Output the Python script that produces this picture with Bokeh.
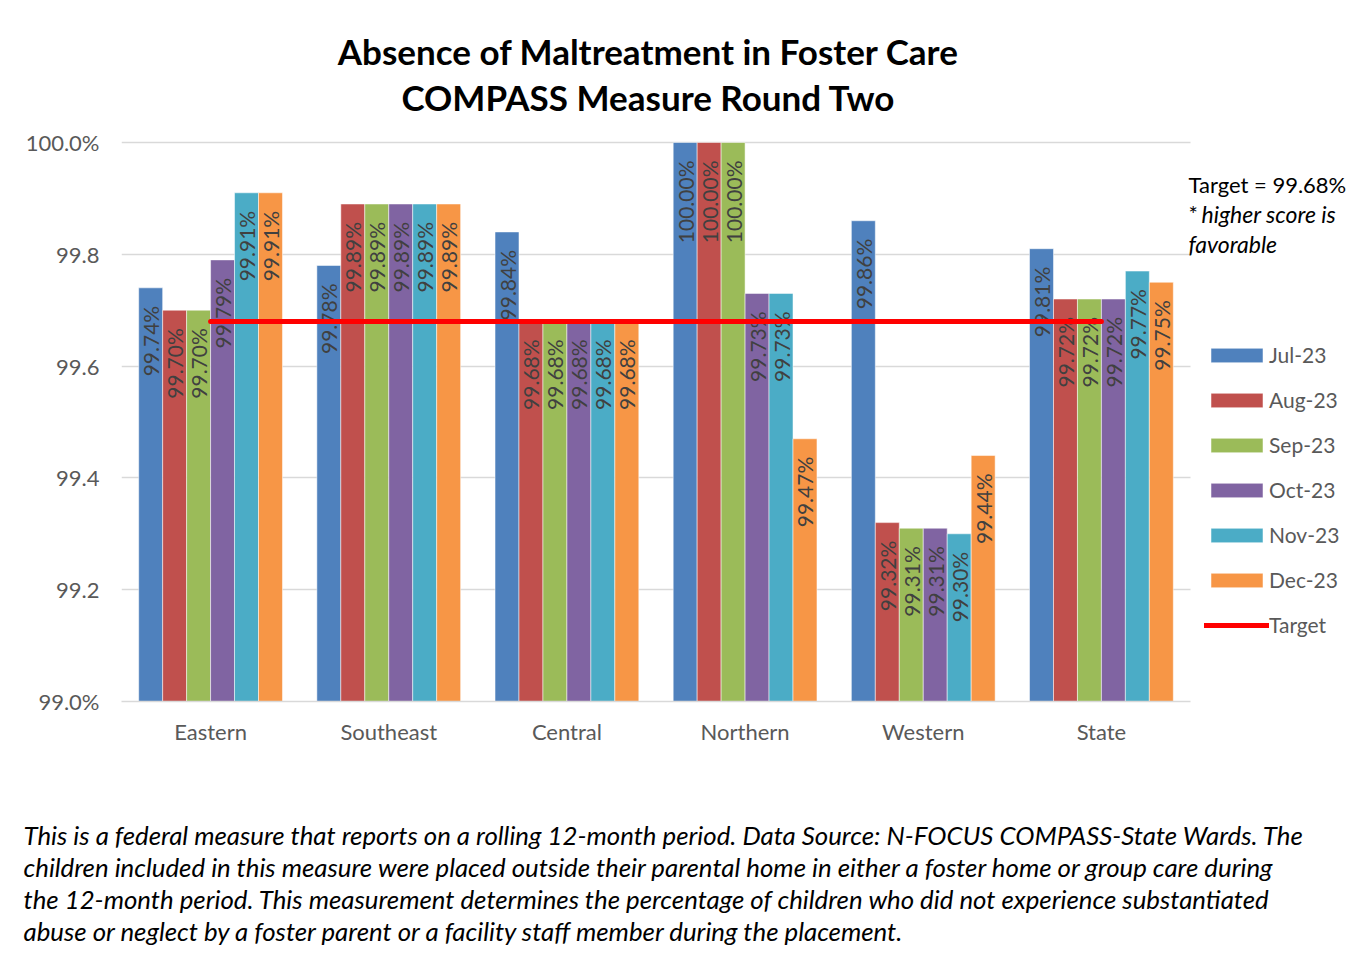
import math
from bokeh.plotting import figure
from bokeh.models import (ColumnDataSource, Range1d, FixedTicker, Label, Legend,
                          LegendItem, Title)
from bokeh.transform import dodge
from bokeh.core.properties import value
from bokeh.embed import file_html
from bokeh.resources import INLINE

# ---------------- data ----------------
regions = ["Eastern", "Southeast", "Central", "Northern", "Western", "State"]
months = ["Jul-23", "Aug-23", "Sep-23", "Oct-23", "Nov-23", "Dec-23"]
jul = [99.74, 99.78, 99.84, 100.00, 99.86, 99.81]
aug = [99.70, 99.89, 99.68, 100.00, 99.32, 99.72]
sep = [99.70, 99.89, 99.68, 100.00, 99.31, 99.72]
oct_ = [99.79, 99.89, 99.68, 99.73, 99.31, 99.72]
nov = [99.91, 99.89, 99.68, 99.73, 99.30, 99.77]
dec = [99.91, 99.89, 99.68, 99.47, 99.44, 99.75]
target = 99.68
y_ticks = [99.0, 99.2, 99.4, 99.6, 99.8, 100.0]
y_tick_labels = ["99.0%", "99.2", "99.4", "99.6", "99.8", "100.0%"]
title_lines = ["Absence of Maltreatment in Foster Care", "COMPASS Measure Round Two"]
note_target = "Target = 99.68%"
note_star = "*"
note_higher = "higher score is"
note_fav = "favorable"
footnote_lines = [
    "This is a federal measure that reports on a rolling 12-month period. Data Source: N-FOCUS COMPASS-State Wards. The",
    "children included in this measure were placed outside their parental home in either a foster home or group care during",
    "the 12-month period. This measurement determines the percentage of children who did not experience substantiated",
    "abuse or neglect by a foster parent or a facility staff member during the placement.",
]

series = [jul, aug, sep, oct_, nov, dec]
colors = ["#4F81BD", "#C0504D", "#9BBB59", "#8064A2", "#4BACC6", "#F79646"]
FONT = "Lato"

# ---------------- layout geometry ----------------
W, H = 1350, 957
LEFT = 121            # frame left edge
BOTTOM = 701          # frame bottom (y = 99.0)
TOP_100 = 142         # pixel row of 100.0
GROUP_PX = 1069 / len(regions)
px_per_unit_y = (BOTTOM - TOP_100) / (y_ticks[-1] - y_ticks[0])
y_end = y_ticks[-1] + TOP_100 / px_per_unit_y
x_start = -0.5
x_end = x_start + (W - LEFT) / GROUP_PX

xs = list(range(len(regions)))
data = {"x": xs}
keys = []
for i, s in enumerate(series):
    k = "s%d" % i
    keys.append(k)
    data[k] = s
    data[k + "_lbl"] = ["%.2f%%" % v for v in s]
src = ColumnDataSource(data)

p = figure(x_range=Range1d(x_start, x_end), y_range=Range1d(y_ticks[0], y_end),
           width=W, height=H, output_backend="svg", toolbar_location=None, title=None,
           min_border_left=LEFT, min_border_right=0, min_border_top=0,
           min_border_bottom=H - BOTTOM)
p.outline_line_color = None
p.xgrid.grid_line_color = None
p.ygrid.grid_line_color = "#d9d9d9"
p.ygrid.grid_line_width = 1.5
try:
    p.ygrid.cross_bounds = (x_start, len(regions) - 0.5)
except Exception:
    pass
p.background_fill_color = "white"
p.border_fill_color = "white"

p.yaxis.ticker = FixedTicker(ticks=y_ticks)
p.yaxis.major_label_overrides = {t: l for t, l in zip(y_ticks, y_tick_labels)}
p.yaxis.axis_line_color = None
p.yaxis.major_tick_line_color = None
p.yaxis.minor_tick_line_color = None
p.yaxis.major_tick_out = 0
p.yaxis.minor_tick_out = 0
p.yaxis.major_label_text_font = FONT
p.yaxis.major_label_text_font_size = "22px"
p.yaxis.major_label_text_color = "#595959"
p.yaxis.major_label_standoff = 22

p.xaxis.ticker = FixedTicker(ticks=xs)
p.xaxis.major_label_overrides = {i: r for i, r in zip(xs, regions)}
p.xaxis.bounds = (x_start, len(regions) - 0.5)
p.xaxis.axis_line_color = "#d9d9d9"
p.xaxis.axis_line_width = 1.5
p.xaxis.major_tick_line_color = None
p.xaxis.minor_tick_line_color = None
p.xaxis.major_tick_out = 0
p.xaxis.minor_tick_out = 0
p.xaxis.major_label_text_font = FONT
p.xaxis.major_label_text_font_size = "22px"
p.xaxis.major_label_text_color = "#595959"
p.xaxis.major_label_standoff = 16

bw = 0.1345
items = []
for i, k in enumerate(keys):
    off = (i - 2.5) * bw
    r = p.vbar(x=dodge("x", off), top=k, bottom=y_ticks[0], width=bw,
               source=src, fill_color=colors[i], line_color="white", line_alpha=0.5, line_width=1)
    items.append(LegendItem(label=months[i], renderers=[r]))

for i, k in enumerate(keys):
    off = (i - 2.5) * bw
    p.text(x=dodge("x", off), y=k, text=k + "_lbl", source=src,
           angle=math.pi / 2, text_align="right", text_baseline="middle", y_offset=18,
           text_font=value(FONT), text_font_size="21px", text_color="#404040")

lr = p.line(x=[xs[0], xs[-1]], y=[target, target], line_color="#FF0000",
            line_width=5, line_cap="round")
items.append(LegendItem(label="Target", renderers=[lr]))

legend = Legend(items=items, location=(1083, 64), orientation="vertical",
                glyph_width=65, glyph_height=18, label_standoff=0, spacing=20,
                padding=0, margin=0, border_line_alpha=0, background_fill_alpha=0,
                label_text_font=FONT, label_text_font_size="21px", label_text_color="#595959")
p.add_layout(legend)

def lab(x, y, text, size, style="normal", align="left", color="black"):
    p.add_layout(Label(x=x, y=y, x_units="screen", y_units="screen", text=text,
                       text_font=FONT, text_font_size=size, text_font_style=style,
                       text_align=align, text_baseline="middle", text_color=color))

lab(527, BOTTOM - 50, title_lines[0], "35px", "bold", "center")
lab(527, BOTTOM - 96, title_lines[1], "35px", "bold", "center")
lab(1067, BOTTOM - 184, note_target, "22px")
lab(1067, BOTTOM - 213, note_star, "22px")
lab(1080, BOTTOM - 213, note_higher, "23px", "italic")
lab(1067, BOTTOM - 243, note_fav, "23px", "italic")

# footnote: titles stacked below the x axis
p.add_layout(Title(text=" ", text_font=FONT, text_font_size="22px", standoff=43,
                   align="left", vertical_align="top"), "below")
for line in footnote_lines:
    p.add_layout(Title(text=line, text_font=FONT, text_font_size="25.8px",
                       text_font_style="italic", text_color="black", standoff=0,
                       align="left", vertical_align="top", offset=23 - LEFT), "below")

open("out.html", "w").write(file_html(p, INLINE))
